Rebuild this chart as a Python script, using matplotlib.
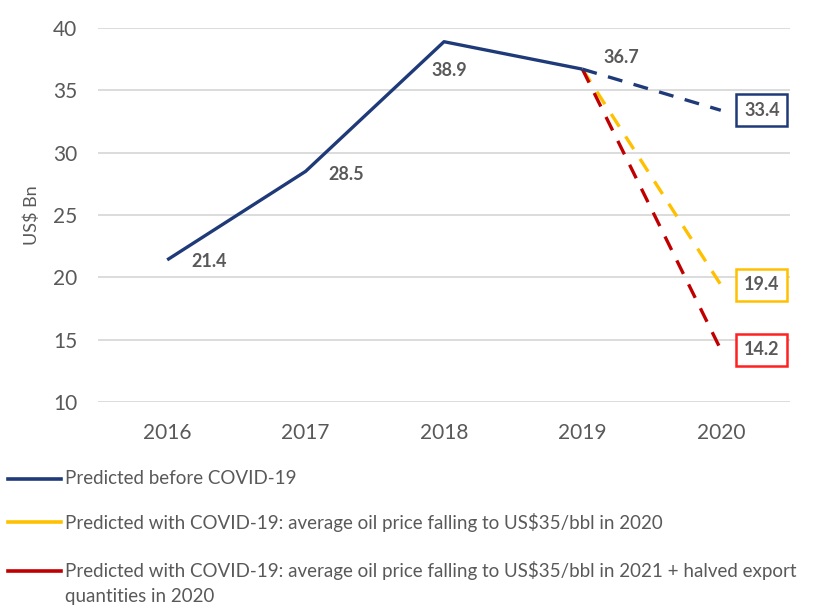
import matplotlib
matplotlib.use("Agg")
import matplotlib.pyplot as plt
from matplotlib.lines import Line2D
import numpy as np

plt.rcParams['font.family'] = ['Lato', 'DejaVu Sans']

years = [2016, 2017, 2018, 2019, 2020]
before_covid = [21.4, 28.5, 38.9, 36.7, 33.4]
covid_oil2020 = [np.nan, np.nan, np.nan, 36.7, 19.4]
covid_oil2021_halved = [np.nan, np.nan, np.nan, 36.7, 14.2]
yticks = [10, 15, 20, 25, 30, 35, 40]
legend_labels = [
    "Predicted before COVID-19",
    "Predicted with COVID-19: average oil price falling to US$35/bbl in 2020",
    "Predicted with COVID-19: average oil price falling to US$35/bbl in 2021 + halved export\nquantities in 2020",
]

NAVY = "#1F3A78"
YELLOW = "#FFC000"
RED = "#C00000"
BOXRED = "#FF2020"
GRAY = "#595959"

fig = plt.figure(figsize=(8.22, 6.08), dpi=100)
ax = fig.add_axes([98/822, 1-402/608, 692/822, 374/608])

x = np.array(years)
bc = np.array(before_covid)
LW = 2.4
ax.plot(x[:4], bc[:4], color=NAVY, lw=LW, solid_capstyle='butt', zorder=4)
ax.plot(x[3:], bc[3:], color=NAVY, lw=LW, ls=(0, (4.5, 3.5)), zorder=3)
ax.plot(x, covid_oil2020, color=YELLOW, lw=LW, ls=(0, (4.5, 3.5)), zorder=2)
ax.plot(x, covid_oil2021_halved, color=RED, lw=LW, ls=(0, (4.5, 3.5)), zorder=2)

ax.set_xlim(2015.5, 2020.5)
ax.set_ylim(10, 40)
ax.set_xticks(years)
ax.set_xticklabels([str(y) for y in years])
ax.set_yticks(yticks)
ax.grid(axis='y', color='#D9D9D9', lw=1.3)
ax.set_axisbelow(True)
for s in ax.spines.values():
    s.set_visible(False)
ax.tick_params(axis='both', length=0, labelsize=15, labelcolor=GRAY)
ax.tick_params(axis='x', pad=15)
ax.tick_params(axis='y', pad=15)
ax.set_ylabel("US$ Bn", fontsize=13, color=GRAY)
ax.yaxis.set_label_coords(-0.084, 0.5)

# data labels
offsets = [(42, -2), (41, -3), (5, -29), (39, 12)]
for i in range(4):
    ax.annotate(f"{before_covid[i]:.1f}", (years[i], before_covid[i]),
                xytext=offsets[i], textcoords='offset pixels',
                ha='center', va='center', fontsize=13, fontweight='bold', color=GRAY)

boxes = [(before_covid[4], NAVY), (covid_oil2020[4], YELLOW), (covid_oil2021_halved[4], BOXRED)]
for val, ec in boxes:
    ax.annotate(f"{val:.1f}", (years[4], val), xytext=(41, 0), textcoords='offset pixels',
                ha='center', va='center', fontsize=13, fontweight='bold', color=GRAY,
                bbox=dict(boxstyle='square,pad=0.42', fc='white', ec=ec, lw=1.8),
                annotation_clip=False)

# legend (manual layout)
leg_colors = [NAVY, YELLOW, RED]
leg_y = [479, 522, 571]
for c, yy, lab in zip(leg_colors, leg_y, legend_labels):
    yf = 1 - yy/608
    fig.add_artist(Line2D([8/822, 61/822], [yf, yf], color=c, lw=2.6, transform=fig.transFigure))
    t = fig.text(65/822, yf, lab, fontsize=13.5, color=GRAY, va='center', linespacing=1.55)
    if '\n' in lab:
        t.set_va('top')
        t.set_position((65/822, 1 - 561/608))

fig.savefig("out.png", dpi=100)
